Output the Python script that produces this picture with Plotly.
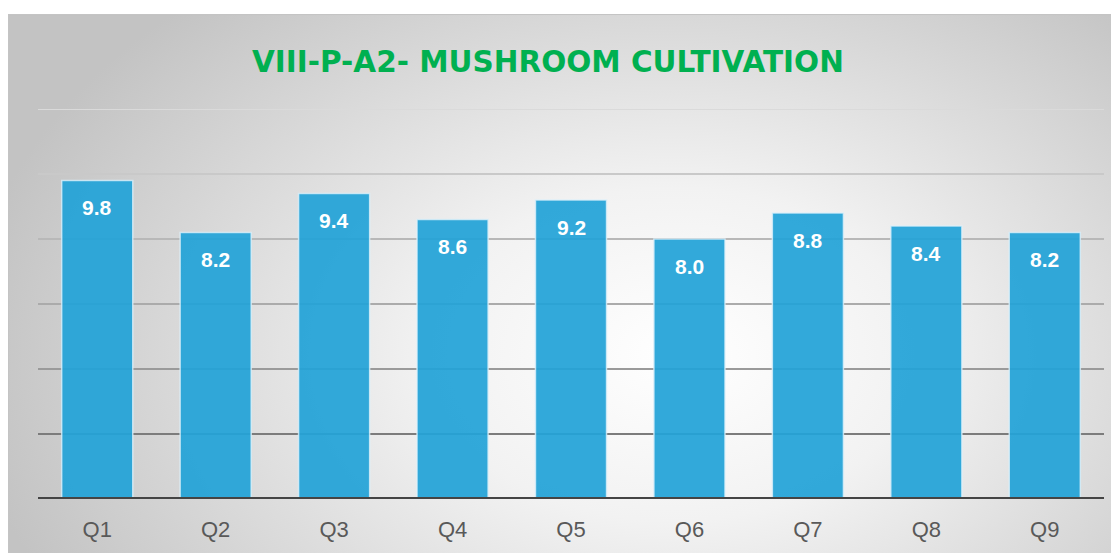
import base64
import plotly.graph_objects as go

categories = ["Q1", "Q2", "Q3", "Q4", "Q5", "Q6", "Q7", "Q8", "Q9"]
values = [9.8, 8.2, 9.4, 8.6, 9.2, 8.0, 8.8, 8.4, 8.2]
grid_values = [2, 4, 6, 8, 10, 12]
grid_colors = ["#7c7c7c", "#9a9a9a", "#ababab", "#b8b8b8", "#c9c9c9", "#dadada"]
title_text = "VIII-P-A2- MUSHROOM CULTIVATION"

W, H = 1119, 553
L, R, T, B = 30, 23, 101, 62
pw, ph = W - L - R, H - T - B

svg = """<svg xmlns='http://www.w3.org/2000/svg' width='1111' height='539' viewBox='0 0 1111 539' preserveAspectRatio='none'>
<defs><radialGradient id='g' cx='0.58' cy='0.62' r='0.62' fx='0.6' fy='0.62' gradientTransform='translate(0.58,0.62) scale(1,1.4) translate(-0.58,-0.62)'>
<stop offset='0' stop-color='#ffffff'/><stop offset='0.35' stop-color='#f2f2f2'/><stop offset='1' stop-color='#c3c3c3'/></radialGradient></defs>
<rect x='0' y='0' width='1111' height='539' fill='url(#g)' stroke='#c4c4c4' stroke-width='2'/></svg>"""
src = "data:image/svg+xml;base64," + base64.b64encode(svg.encode()).decode()

def px_x(p):
    return (p - L) / pw

def px_y(p):
    return (H - B - p) / ph

fig = go.Figure()
fig.add_trace(go.Bar(
    x=categories, y=values,
    marker=dict(color="rgba(34,162,215,0.93)", line=dict(color="rgba(220,240,250,0.8)", width=1.5)),
    hoverinfo="skip",
))

shapes = []
for gv, gc in zip(grid_values, grid_colors):
    shapes.append(dict(type="line", xref="paper", yref="y", x0=0, x1=1, y0=gv, y1=gv,
                       line=dict(color=gc, width=2), layer="below"))
shapes.append(dict(type="line", xref="paper", yref="y", x0=0, x1=1, y0=0, y1=0,
                   line=dict(color="#444444", width=4), layer="above"))

annotations = [dict(x=c, y=v, xref="x", yref="y", text=f"<b>{v:.1f}</b>", showarrow=False,
                    yshift=-27, font=dict(family="Liberation Sans, Arial", size=21, color="white"))
               for c, v in zip(categories, values)]
annotations.append(dict(x=px_x(540), y=px_y(54), xref="paper", yref="paper", text=f"<b>{title_text}</b>",
                        xanchor="center", yanchor="middle", showarrow=False,
                        font=dict(family="DejaVu Sans", size=29.5, color="#00b050")))

fig.update_layout(
    width=W, height=H,
    margin=dict(l=L, r=R, t=T, b=B),
    paper_bgcolor="white", plot_bgcolor="rgba(0,0,0,0)",
    bargap=0.4, showlegend=False,
    images=[dict(source=src, xref="paper", yref="paper", x=px_x(0), y=px_y(6),
                 sizex=px_x(W + 2) - px_x(0), sizey=px_y(6) - px_y(H + 2),
                 sizing="stretch", xanchor="left", yanchor="top", layer="below")],
    shapes=shapes,
    annotations=annotations,
    xaxis=dict(showgrid=False, zeroline=False, showline=False, ticks="",
               tickfont=dict(family="Liberation Sans, Arial", size=22, color="#595959"),
               range=[-0.5, 8.5]),
    yaxis=dict(range=[0, 12], showgrid=False, zeroline=False, showticklabels=False, showline=False),
)
fig.update_xaxes(ticklabelstandoff=15)

fig.write_html("out.html")
